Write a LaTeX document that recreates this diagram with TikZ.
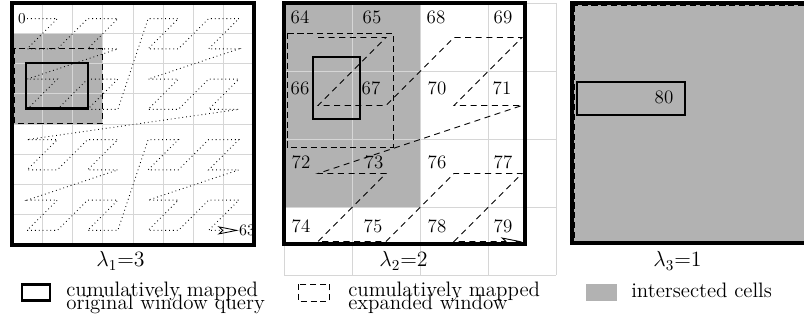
\documentclass[tikz,border=0pt]{standalone}
\usetikzlibrary{arrows.meta}
\newcommand\legfont{\fontsize{13.8}{8.8}\selectfont\lineskiplimit=-20pt\relax}
\newcommand\lamfont{\fontsize{14}{16}\selectfont}
\newcommand\cellfont{\fontsize{12.5}{14}\selectfont}
\begin{document}
\begin{tikzpicture}[x=0.66pt,y=-0.66pt,
  gridline/.style={draw=black!16, line width=0.6pt},
  panel/.style={draw=black, line width=2.2pt},
  query/.style={draw=black, line width=1.6pt},
  expanded/.style={draw=black, line width=0.6pt, dash pattern=on 4pt off 2.5pt},
  hitcells/.style={fill=black!30},
  zdots/.style={black, line width=0.55pt, dotted},
  zdash/.style={black, line width=0.6pt, dash pattern=on 4pt off 3pt},
  endtip/.style={-{Stealth[open,length=14pt,width=5.5pt,inset=3pt]}},
  celllab/.style={font=\cellfont, inner sep=0pt},
  lamlab/.style={font=\lamfont, inner sep=0pt},
  legtext/.style={align=left, anchor=north west, inner sep=0pt, font=\legfont}
]
\useasboundingbox (0,0) rectangle (804,320);
\clip (0,0) rectangle (804,320);

% ---------- left panel (lambda 1 = 3) ----------
\fill[hitcells] (12,33.25) rectangle (102.75,123.75);
\foreach \k in {1,...,7} {
  \draw[gridline] ({12+\k*30.25},3) -- ({12+\k*30.25},245);
  \draw[gridline] (12,{3+\k*30.25}) -- (254,{3+\k*30.25});
}
\foreach \i in {0,...,63} {
  \pgfmathtruncatemacro\cx{mod(\i,2)+2*mod(int(\i/4),2)+4*mod(int(\i/16),2)}
  \pgfmathtruncatemacro\cy{mod(int(\i/2),2)+2*mod(int(\i/8),2)+4*mod(int(\i/32),2)}
  \coordinate (p\i) at ({12+(\cx+0.5)*30.25},{3.5+(\cy+0.5)*30.25});
}
\draw[zdots, endtip] (p0) \foreach \i in {1,...,62} { -- (p\i) } -- (p63);
\node[anchor=east, inner sep=0.8pt] (l0) at (p0) {0};
\node[anchor=west, inner sep=0pt, font=\fontsize{10.5}{12}\selectfont] (l63) at (p63) {63};
\draw[expanded] (14.5,48) rectangle (102,123.5);
\draw[query] (26,63) rectangle (88,108.5);
\draw[panel] (12,3) rectangle (254,245);
\node[lamlab] (lam1) at (120.5,261) {$\lambda_1{=}3$};

% ---------- middle panel (lambda 2 = 2) ----------
\fill[hitcells] (284,3) rectangle (420,207);
\foreach \k in {0,...,4} {
  \draw[gridline] ({284+\k*68},3) -- ({284+\k*68},275);
  \draw[gridline] (284,{3+\k*68}) -- (556,{3+\k*68});
}
\foreach \i in {0,...,15} {
  \pgfmathtruncatemacro\cx{mod(\i,2)+2*mod(int(\i/4),2)}
  \pgfmathtruncatemacro\cy{mod(int(\i/2),2)+2*mod(int(\i/8),2)}
  \coordinate (q\i) at ({284+(\cx+0.5)*68},{3.5+(\cy+0.5)*68});
}
\draw[zdash, endtip] (q0) \foreach \i in {1,...,14} { -- (q\i) } -- (q15);
\foreach \lab/\lx/\ly in {64/300/17, 65/372/17, 68/436/17, 69/503/17,
                          66/300/88, 67/371/88, 70/437/88, 71/502/88,
                          72/301/162, 73/374/162, 76/437/162, 77/503/162,
                          74/301/226, 75/373/226, 78/437/226, 79/503/226} {
  \node[celllab] (c\lab) at (\lx,\ly) {\lab};
}
\draw[expanded] (287,33) rectangle (393,147);
\draw[query] (313,57) rectangle (360,119);
\draw[panel] (284,3) rectangle (525,244);
\node[lamlab] (lam2) at (403.5,261) {$\lambda_2{=}2$};

% ---------- right panel (lambda 3 = 1) ----------
\fill[hitcells] (572,3) rectangle (840,243);
\draw[expanded] (574.5,5.5) rectangle (838,241);
\draw[query] (577,82) rectangle (685,115);
\node[celllab] (c80) at (664,97) {80};
\draw[panel] (572,3) rectangle (840,243);
\node[lamlab] (lam3) at (677.5,261) {$\lambda_3{=}1$};

% ---------- legend ----------
\draw[query] (22,284.5) rectangle (50,300.5);
\node[legtext] (t1) at (66,281.5) {cumulatively mapped\\original window query};
\draw[expanded] (298,284) rectangle (329.5,301);
\node[legtext] (t2) at (348,281.5) {cumulatively mapped\\expanded window};
\fill[hitcells] (586,284) rectangle (617,301);
\node[anchor=base west, inner sep=0pt, font=\legfont] (t3) at (631,297) {intersected cells};
\end{tikzpicture}
\end{document}
